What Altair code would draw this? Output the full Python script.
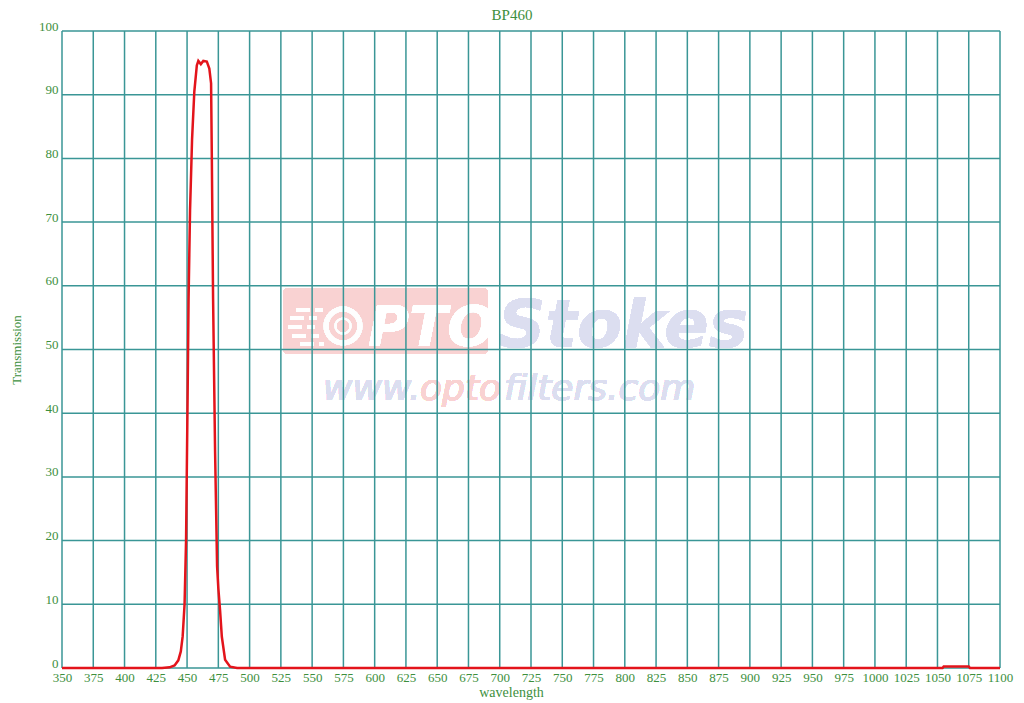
import altair as alt
import pandas as pd

# Spectrum data
wavelength = [350, 430, 436, 440, 443, 445, 446.5, 448, 449.2, 450.4, 451.2, 452.4, 454,
              455.8, 457.8, 459, 461, 463, 465.8, 467.8, 469.2, 469.8, 470.8, 472.4, 474,
              475, 476.4, 477.8, 480.4, 484.4, 490, 1054, 1055, 1075, 1076, 1100]
transmission = [0, 0, 0.1, 0.4, 1.2, 2.6, 5, 10, 20, 42, 58, 72, 83,
                90.5, 94.6, 95.3, 94.8, 95.3, 95.2, 94.1, 91.8, 80, 58, 34, 16,
                12.5, 9, 4.9, 1.3, 0.2, 0, 0, 0.25, 0.25, 0, 0]

x_ticks = list(range(350, 1101, 25))
y_ticks = list(range(0, 101, 10))

GRID = "#3a9696"
TEXT = "#3d8f3d"
FONT = "Liberation Serif"

df = pd.DataFrame({"wavelength": wavelength, "transmission": transmission})
xdf = pd.DataFrame({"x": x_ticks})
ydf = pd.DataFrame({"y": y_ticks})

xscale = alt.Scale(domain=[350, 1100], nice=False, zero=False)
yscale = alt.Scale(domain=[0, 100], nice=False)

xaxis = alt.Axis(values=x_ticks, grid=False, ticks=False, domain=False, format="d",
                 labelFont=FONT, labelFontSize=13, labelColor=TEXT, labelPadding=3,
                 labelFlush=False,
                 title="wavelength", titleFont=FONT, titleFontSize=14,
                 titleFontWeight="normal", titleColor=TEXT, titleX=449, titlePadding=1)
yaxis = alt.Axis(values=y_ticks, grid=False, ticks=False, domain=False,
                 labelFont=FONT, labelFontSize=13, labelColor=TEXT, labelPadding=4,
                 labelBaseline="alphabetic", labelOffset=-1, labelFlush=False,
                 title="Transmission", titleFont=FONT, titleFontSize=13,
                 titleFontWeight="normal", titleColor=TEXT, titlePadding=15)

base = alt.Chart(df)

WM_PINK = "#f9d2d2"
WM_BLUE = "#dcdef0"

# Watermark (decorative)
wm_rect = base.mark_rect(color=WM_PINK, cornerRadius=5).encode(
    x=alt.value(221), x2=alt.value(426), y=alt.value(257), y2=alt.value(323))
wm_ring = base.mark_point(shape="circle", size=1150, stroke="white", strokeWidth=5,
                          filled=False).encode(x=alt.value(281), y=alt.value(295))
wm_ring2 = base.mark_point(shape="circle", size=230, stroke="white", strokeWidth=2,
                           filled=False).encode(x=alt.value(281), y=alt.value(295))
speed = [
    base.mark_rule(color="white", strokeWidth=3, strokeDash=[14, 5, 8, 5]).encode(
        x=alt.value(x1), x2=alt.value(x2), y=alt.value(yy))
    for (x1, x2, yy) in [(234, 262, 279), (228, 260, 287), (226, 258, 296), (230, 260, 305), (238, 262, 313)]
]
wm_pto = base.mark_text(text="PTO", font="DejaVu Sans", fontSize=56, fontWeight="bold",
                        fontStyle="italic", color="white", align="left", baseline="alphabetic"
                        ).encode(x=alt.value(306), y=alt.value(314))
wm_stokes = base.mark_text(text="Stokes", font="DejaVu Sans", fontSize=66, fontWeight="bold",
                           fontStyle="italic", color=WM_BLUE, align="left", baseline="alphabetic"
                           ).encode(x=alt.value(436), y=alt.value(316))
wm_www = base.mark_text(text="www.", font="DejaVu Sans", fontSize=36, fontStyle="italic",
                        color=WM_BLUE, align="left", baseline="alphabetic"
                        ).encode(x=alt.value(261), y=alt.value(369))
wm_opto = base.mark_text(text="opto", font="DejaVu Sans", fontSize=36, fontStyle="italic",
                         color=WM_PINK, align="left", baseline="alphabetic"
                         ).encode(x=alt.value(358), y=alt.value(369))
wm_filters = base.mark_text(text="filters.com", font="DejaVu Sans", fontSize=36, fontStyle="italic",
                            color=WM_BLUE, align="left", baseline="alphabetic"
                            ).encode(x=alt.value(442), y=alt.value(369))

vgrid = alt.Chart(xdf).mark_rule(color=GRID, strokeWidth=1.5).encode(
    x=alt.X("x:Q", scale=xscale, axis=xaxis))
hgrid = alt.Chart(ydf).mark_rule(color=GRID, strokeWidth=1.5).encode(
    y=alt.Y("y:Q", scale=yscale, axis=yaxis))

line = base.mark_line(color="#e3141b", strokeWidth=2.5).encode(
    x=alt.X("wavelength:Q", scale=xscale, axis=xaxis),
    y=alt.Y("transmission:Q", scale=yscale, axis=yaxis))

chart = alt.layer(
    wm_rect, wm_ring, wm_ring2, *speed, wm_pto, wm_stokes, wm_www, wm_opto, wm_filters,
    vgrid, hgrid, line
).properties(
    width=938, height=637,
    title=alt.TitleParams("BP460", font=FONT, fontSize=15, fontWeight="normal",
                          color=TEXT, anchor="middle", dx=-19, offset=-3),
    autosize=alt.AutoSizeParams(type="none"),
    padding={"left": 54, "top": 23, "right": 16, "bottom": 35},
).configure_view(stroke=None)

chart.save("out.html", embed_options={"renderer": "svg", "actions": False})
